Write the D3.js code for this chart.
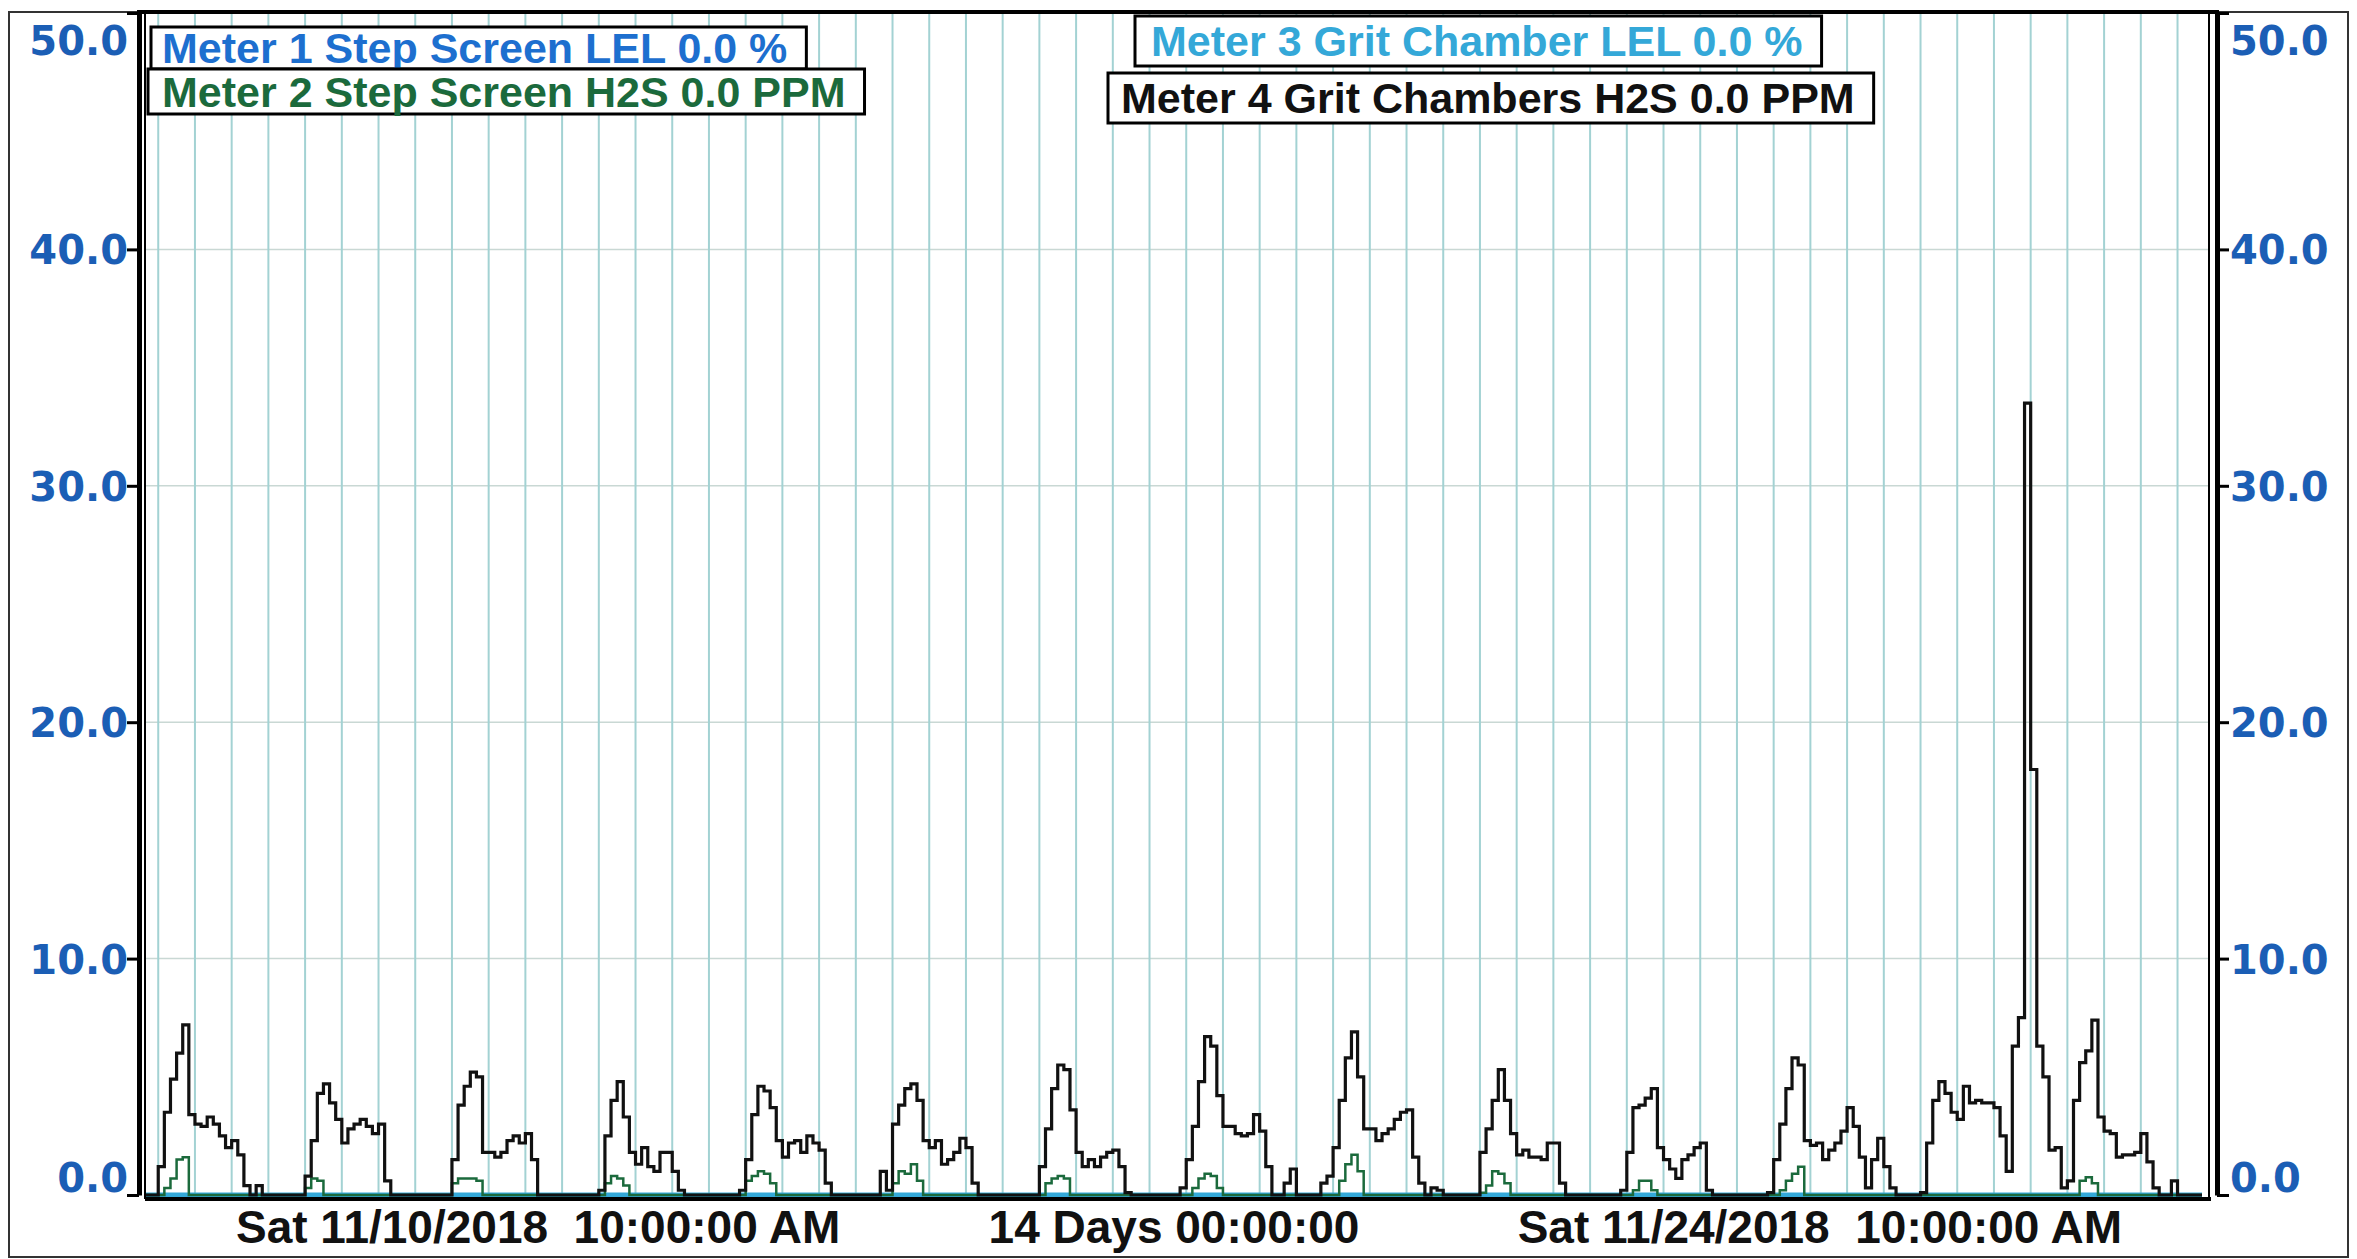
<!DOCTYPE html>
<html>
<head>
<meta charset="utf-8">
<script src="https://cdn.jsdelivr.net/npm/d3@7"></script>
<style>
  html, body { margin: 0; padding: 0; background: #fff; }
  svg { display: block; }
</style>
</head>
<body>
<div id="chart"></div>
<script>
// time window of the trend
const startTime = new Date(2018, 10, 10, 10, 0, 0);
const endTime = new Date(2018, 10, 24, 10, 0, 0);

// hourly readings, one row per day, each row starting at 10:00 AM
const meter4H2S = [
  0,0,1.2,3.5,4.9,6.0,7.2,3.4,3.0,2.9,3.3,3.0,2.5,2.0,2.3,1.7,0.4,0,0.4,0,0,0,0,0,
  0,0,0.8,2.3,4.3,4.7,3.9,3.2,2.2,2.8,3.0,3.2,2.9,2.6,3.0,0.6,0,0,0,0,0,0,0,0,
  0,0,1.5,3.8,4.6,5.2,5.0,1.8,1.8,1.6,1.8,2.3,2.5,2.2,2.6,1.5,0,0,0,0,0,0,0,0,
  0,0,0.2,2.5,4.0,4.8,3.3,1.8,1.3,2.0,1.2,1.0,1.8,1.8,1.0,0.2,0,0,0,0,0,0,0,0,
  0,0.2,1.5,3.4,4.6,4.4,3.7,2.3,1.6,2.2,2.3,1.8,2.5,2.2,1.9,0.5,0,0,0,0,0,0,0,0,
  1.0,0.2,3.0,3.8,4.5,4.7,4.0,2.3,2.0,2.3,1.3,1.5,1.8,2.4,2.0,0.5,0,0,0,0,0,0,0,0,
  0,0,1.2,2.8,4.5,5.5,5.3,3.6,1.8,1.2,1.5,1.2,1.6,1.8,1.9,1.2,0.1,0,0,0,0,0,0,0,
  0,0.3,1.5,2.9,4.8,6.7,6.3,4.2,2.9,2.9,2.6,2.5,2.6,3.4,2.7,1.2,0,0,0.5,1.1,0,0,0,0,
  0.5,0.8,2.0,4.0,5.8,6.9,5.0,2.8,2.8,2.3,2.6,2.8,3.2,3.5,3.6,1.6,0.5,0,0.3,0.2,0,0,0,0,
  0,0,1.8,2.8,4.0,5.3,4.0,2.6,1.7,1.9,1.6,1.6,1.5,2.2,2.2,0.5,0,0,0,0,0,0,0,0,
  0,0.2,1.8,3.7,3.8,4.1,4.5,2.0,1.5,1.1,0.7,1.5,1.7,2.0,2.2,0.2,0,0,0,0,0,0,0,0,
  0,0.1,1.5,3.0,4.5,5.8,5.5,2.3,2.1,2.2,1.5,1.9,2.2,2.7,3.7,2.9,1.6,0.3,1.5,2.4,1.2,0.3,0,0,
  0,0,0.1,2.2,4.0,4.8,4.3,3.5,3.2,4.6,3.9,4.0,3.9,3.9,3.7,2.5,1.0,6.3,7.5,33.5,18.0,6.3,5.0,1.9,
  2.0,0.3,0.6,4.0,5.6,6.1,7.4,3.3,2.7,2.6,1.6,1.7,1.7,1.8,2.6,1.4,0.3,0,0,0.6,0,0,0,0
];

const meter2H2S = [
  0,0,0,0.3,0.7,1.5,1.6,0,0,0,0,0,0,0,0,0,0,0,0,0,0,0,0,0,
  0,0,0.3,0.7,0.6,0,0,0,0,0,0,0,0,0,0,0,0,0,0,0,0,0,0,0,
  0,0,0.5,0.7,0.7,0.7,0.6,0,0,0,0,0,0,0,0,0,0,0,0,0,0,0,0,0,
  0,0,0,0.5,0.8,0.7,0.4,0,0,0,0,0,0,0,0,0,0,0,0,0,0,0,0,0,
  0,0,0.6,0.8,1.0,0.9,0.5,0,0,0,0,0,0,0,0,0,0,0,0,0,0,0,0,0,
  0,0,0.5,1.0,0.9,1.3,0.6,0,0,0,0,0,0,0,0,0,0,0,0,0,0,0,0,0,
  0,0,0,0.5,0.7,0.8,0.7,0,0,0,0,0,0,0,0,0,0,0,0,0,0,0,0,0,
  0,0,0,0.3,0.7,0.9,0.8,0.3,0,0,0,0,0,0,0,0,0,0,0,0,0,0,0,0,
  0,0,0,0.6,1.3,1.7,1.0,0,0,0,0,0,0,0,0,0,0,0,0,0,0,0,0,0,
  0,0,0.1,0.4,1.0,0.9,0.5,0,0,0,0,0,0,0,0,0,0,0,0,0,0,0,0,0,
  0,0,0,0.2,0.6,0.6,0.2,0,0,0,0,0,0,0,0,0,0,0,0,0,0,0,0,0,
  0,0,0,0.2,0.6,0.9,1.2,0,0,0,0,0,0,0,0,0,0,0,0,0,0,0,0,0,
  0,0,0,0,0,0,0,0,0,0,0,0,0,0,0,0,0,0,0,0,0,0,0,0,
  0,0,0,0,0.6,0.75,0.5,0,0,0,0,0,0,0,0,0,0,0,0,0,0,0,0,0
];

// LEL meters stayed flat at zero for the whole window
const lelTimes = [startTime, endTime];
const meter1LEL = [0.0, 0.0];
const meter3LEL = [0.0, 0.0];

const yTicks = [0, 10, 20, 30, 40, 50];
const yGrid = [10, 20, 30, 40];
const legendLabels = [
  'Meter 1 Step Screen LEL 0.0 %',
  'Meter 2 Step Screen H2S 0.0 PPM',
  'Meter 3 Grit Chamber LEL 0.0 %',
  'Meter 4 Grit Chambers H2S 0.0 PPM'
];
const xLabels = ['Sat 11/10/2018  10:00:00 AM', '14 Days 00:00:00', 'Sat 11/24/2018  10:00:00 AM'];

const W = 2357, H = 1259;
const colours = {
  meter1: '#1d6fcf',
  meter2: '#1b6a3c',
  meter3: '#34a8d8',
  meter4: '#111111',
  tick: '#1b5eb5',
  vgrid: '#a3d2d3',
  hgrid: '#c9d8d4'
};

const x = d3.scaleTime().domain([startTime, endTime]).range([146, 2202]);
const y = d3.scaleLinear().domain([0, 50]).range([1195, 13]);

const svg = d3.select('#chart')
  .append('svg')
  .attr('width', W)
  .attr('height', H)
  .attr('viewBox', [0, 0, W, H]);

svg.append('rect').attr('width', W).attr('height', H).attr('fill', '#fff');

// outer frame
svg.append('rect')
  .attr('x', 9).attr('y', 12)
  .attr('width', 2339).attr('height', 1245)
  .attr('fill', 'none').attr('stroke', '#333').attr('stroke-width', 2);

// grid
svg.append('g')
  .selectAll('line')
  .data(yGrid)
  .join('line')
  .attr('x1', 146).attr('x2', 2209)
  .attr('y1', d => y(d)).attr('y2', d => y(d))
  .attr('stroke', colours.hgrid).attr('stroke-width', 1.5);

svg.append('g')
  .selectAll('line')
  .data(d3.timeHour.every(6).range(startTime, endTime))
  .join('line')
  .attr('x1', d => x(d)).attr('x2', d => x(d))
  .attr('y1', y(50)).attr('y2', y(0))
  .attr('stroke', colours.vgrid).attr('stroke-width', 2);

// series
const hourly = values => values.map((v, i) => ({ t: d3.timeHour.offset(startTime, i), v }))
  .concat([{ t: endTime, v: values[values.length - 1] }]);
const paired = (times, values) => values.map((v, i) => ({ t: times[i], v }));

const line = d3.line()
  .x(d => x(d.t))
  .y(d => y(d.v))
  .curve(d3.curveStepAfter);

const series = [
  { data: paired(lelTimes, meter1LEL), colour: colours.meter1, width: 4 },
  { data: paired(lelTimes, meter3LEL), colour: colours.meter3, width: 5 },
  { data: hourly(meter2H2S), colour: colours.meter2, width: 2.5 },
  { data: hourly(meter4H2S), colour: colours.meter4, width: 3.2 }
];

svg.append('g')
  .selectAll('path')
  .data(series)
  .join('path')
  .attr('d', d => line(d.data))
  .attr('fill', 'none')
  .attr('stroke', d => d.colour)
  .attr('stroke-width', d => d.width)
  .attr('stroke-linejoin', 'miter');

// plot frame
svg.append('line').attr('x1', 137).attr('x2', 2219).attr('y1', 12).attr('y2', 12)
  .attr('stroke', '#000').attr('stroke-width', 4);
svg.append('line').attr('x1', 145).attr('x2', 2211).attr('y1', 1199).attr('y2', 1199)
  .attr('stroke', '#000').attr('stroke-width', 4);
svg.append('line').attr('x1', 145).attr('x2', 145).attr('y1', 12).attr('y2', 1199)
  .attr('stroke', '#000').attr('stroke-width', 2);
svg.append('line').attr('x1', 2209).attr('x2', 2209).attr('y1', 12).attr('y2', 1199)
  .attr('stroke', '#000').attr('stroke-width', 2);

// y axes
const labelDy = d => d === 50 ? '1.04em' : d === 0 ? '-0.1em' : '0.36em';

function styleAxis(g) {
  g.select('.domain').attr('stroke', '#000').attr('stroke-width', 5);
  g.selectAll('.tick line').attr('stroke', '#000').attr('stroke-width', 3);
  g.selectAll('.tick text')
    .attr('dy', labelDy)
    .attr('fill', colours.tick)
    .style('font-family', '"DejaVu Sans", Verdana, sans-serif')
    .style('font-weight', 'bold')
    .style('font-size', '40px');
}

svg.append('g')
  .attr('transform', 'translate(139,0)')
  .call(d3.axisLeft(y).tickValues(yTicks).tickFormat(d3.format('.1f')).tickSize(12).tickSizeOuter(0).tickPadding(-1))
  .call(styleAxis);

svg.append('g')
  .attr('transform', 'translate(2217,0)')
  .call(d3.axisRight(y).tickValues(yTicks).tickFormat(d3.format('.1f')).tickSize(12).tickSizeOuter(0).tickPadding(1))
  .call(styleAxis);

// legend boxes
const legendLayout = [
  { x: 151, y: 27, h: 42, pad: 11, colour: colours.meter1 },
  { x: 148, y: 69, h: 45, pad: 14, colour: colours.meter2 },
  { x: 1135, y: 16, h: 50, pad: 16, colour: colours.meter3 },
  { x: 1108, y: 73, h: 50, pad: 13, colour: colours.meter4 }
];

const legend = svg.append('g')
  .selectAll('g')
  .data(legendLabels)
  .join('g')
  .attr('transform', (d, i) => `translate(${legendLayout[i].x},${legendLayout[i].y})`);

const legendBox = legend.append('rect')
  .attr('height', (d, i) => legendLayout[i].h)
  .attr('fill', '#fff')
  .attr('stroke', '#000')
  .attr('stroke-width', 3);

const legendText = legend.append('text')
  .attr('x', (d, i) => legendLayout[i].pad)
  .attr('y', (d, i) => legendLayout[i].h / 2 + 15)
  .attr('fill', (d, i) => legendLayout[i].colour)
  .style('font-family', '"Liberation Sans", Arial, sans-serif')
  .style('font-weight', 'bold')
  .style('font-size', '43px')
  .text(d => d);

legendText.each(function (d, i) {
  legendLayout[i].w = this.getComputedTextLength() + legendLayout[i].pad + 19;
});
legendBox.attr('width', (d, i) => legendLayout[i].w);

// x labels: start, span, end
const xLabelPos = [
  { x: x(startTime) + 90, anchor: 'start' },
  { x: (x(startTime) + x(endTime)) / 2, anchor: 'middle' },
  { x: x(endTime) - 80, anchor: 'end' }
];

svg.append('g')
  .selectAll('text')
  .data(xLabels)
  .join('text')
  .attr('x', (d, i) => xLabelPos[i].x)
  .attr('y', 1243)
  .attr('text-anchor', (d, i) => xLabelPos[i].anchor)
  .attr('fill', '#111')
  .style('white-space', 'pre')
  .style('font-family', '"Liberation Sans", Arial, sans-serif')
  .style('font-weight', 'bold')
  .style('font-size', '46px')
  .text(d => d);
</script>
</body>
</html>
